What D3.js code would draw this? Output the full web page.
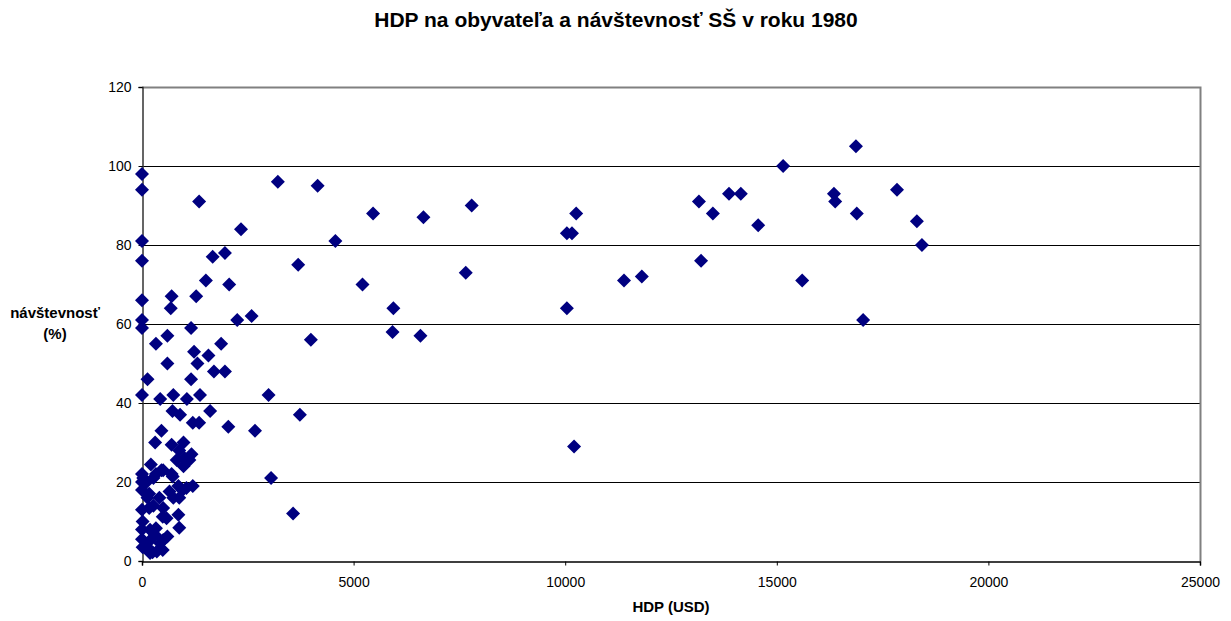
<!DOCTYPE html>
<html>
<head>
<meta charset="utf-8">
<script src="https://cdn.jsdelivr.net/npm/d3@7"></script>
<style>
  body { margin: 0; background: #fff; }
  svg { display: block; font-family: "Liberation Sans", Arial, sans-serif; }
</style>
</head>
<body>
<svg id="chart" width="1231" height="621"></svg>
<script>
// ---- data ----
const titleText = "HDP na obyvateľa a návštevnosť SŠ v roku 1980";
const xLabel = "HDP (USD)";
const yLabelLines = ["návštevnosť", "(%)"];
const xTicks = [0, 5000, 10000, 15000, 20000, 25000];
const yTicks = [0, 20, 40, 60, 80, 100, 120];

// GDP per capita (USD)
const hdp = [
  0, 0, 0, 0, 0, 0, 0, 0, 0, 30, 0, 15, 0, 0, 0, 15, 0,
  110, 190, 350, 250, 490, 430, 500, 170, 600, 310, 190, 330, 880,
  580, 490, 860, 170, 500, 270, 130, 410, 740, 880, 170, 650, 960,
  1050, 860, 1200, 110, 270, 725, 330, 700, 460, 500, 210, 980, 820,
  1010, 1120, 1170, 880, 310, 700, 980, 460, 1200, 1350, 2040, 720, 900,
  1610, 3730, 430, 740, 1060, 1370, 2990, 130, 1160, 1700, 1960, 600, 1310,
  1230, 1570, 1870, 330, 600, 1160, 2250, 2590, 680, 700, 1280, 2060, 1510,
  3690, 1670, 1960, 2340, 1350, 3210, 4150, 4570, 5460, 6650, 7790, 7650, 5210,
  5940, 5920, 6580, 3990, 2670, 3050, 3570,
  10040, 10160, 10260, 10040, 10210, 11390, 11810, 13160, 13210, 13490, 13870,
  14150, 14560, 15150, 15600, 16350, 16380, 16870, 16890, 17040, 17840, 18310, 18430
];
// secondary school enrolment (%)
const navstevnost = [
  98, 94, 81, 76, 66, 61, 59, 42, 22, 21, 18, 10, 8, 5.5, 13, 3.5, 20,
  3.6, 2, 2.4, 2.2, 2.8, 4.5, 5.3, 5, 6.2, 6.6, 7.9, 8.3, 8.4,
  10.8, 11.2, 11.7, 13.4, 13.4, 14, 16, 16, 16, 16, 17, 17.6, 18,
  18.5, 19, 19, 20, 21, 21.4, 22, 22, 23, 23, 24.4, 24, 25.6,
  26, 25.6, 27, 28, 30, 29.4, 30, 33, 35, 35, 34, 38, 37,
  38, 37, 41, 42, 41, 42, 42, 46, 46, 48, 48, 50, 50,
  53, 52, 55, 55, 57, 59, 61, 62, 64, 67, 67, 70, 71,
  75, 77, 78, 84, 91, 96, 95, 81, 88, 87, 90, 73, 70,
  64, 58, 57, 56, 33, 21, 12,
  83, 83, 88, 64, 29, 71, 72, 91, 76, 88, 93,
  93, 85, 100, 71, 93, 91, 105, 88, 61, 94, 86, 80
];

// ---- chart ----
const svg = d3.select("#chart");
const W = 1231, H = 621;
const mLeft = 142, mRight = 1200, mTop = 87, mBottom = 561;
const FONT = "'Liberation Sans', Arial, sans-serif";

svg.append("rect").attr("width", W).attr("height", H).attr("fill", "#fff");

const x = d3.scaleLinear().domain([0, 25000]).range([mLeft, mRight]);
const y = d3.scaleLinear().domain([0, 120]).range([mBottom, mTop]);

// gridlines
svg.append("g")
  .selectAll("line")
  .data(yTicks.filter(t => t > 0 && t < 120))
  .join("line")
  .attr("x1", mLeft).attr("x2", mRight)
  .attr("y1", d => Math.round(y(d)) + 0.5).attr("y2", d => Math.round(y(d)) + 0.5)
  .attr("stroke", "#000").attr("stroke-width", 1);

// plot border (top, right) gray
svg.append("path")
  .attr("d", `M${mLeft},${mTop + 0.5}H${mRight + 0.5}V${mBottom}`)
  .attr("fill", "none").attr("stroke", "#808080").attr("stroke-width", 2);

// y axis
const yAxis = d3.axisLeft(y).tickValues(yTicks).tickSize(4).tickPadding(7).tickFormat(d3.format("d"));
const gy = svg.append("g").attr("transform", `translate(${mLeft + 0.5},0)`).call(yAxis);
gy.select(".domain").attr("stroke", "#333").attr("stroke-width", 1.5);
gy.selectAll(".tick line").attr("stroke", "#000");
gy.selectAll(".tick text").attr("font-size", 14).attr("fill", "#000").attr("font-family", FONT);

// x axis
const xAxis = d3.axisBottom(x).tickValues(xTicks).tickSize(4).tickPadding(12).tickFormat(d3.format("d"));
const gx = svg.append("g").attr("transform", `translate(0,${mBottom + 0.5})`).call(xAxis);
gx.select(".domain").attr("stroke", "#000").attr("stroke-width", 1.5);
gx.selectAll(".tick line").attr("stroke", "#000");
gx.selectAll(".tick text").attr("font-size", 14).attr("fill", "#000").attr("font-family", FONT);

// points (diamonds)
const r = 7;
const diamond = `M0,${-r}L${r},0L0,${r}L${-r},0Z`;
svg.append("g")
  .selectAll("path")
  .data(d3.range(hdp.length))
  .join("path")
  .attr("d", diamond)
  .attr("transform", i => `translate(${x(hdp[i])},${y(navstevnost[i])})`)
  .attr("fill", "#000080");

// title
svg.append("text")
  .attr("x", 616).attr("y", 27)
  .attr("text-anchor", "middle")
  .attr("font-size", 21).attr("font-weight", "bold")
  .text(titleText);

// x label
svg.append("text")
  .attr("x", 671).attr("y", 612)
  .attr("text-anchor", "middle")
  .attr("font-size", 15).attr("font-weight", "bold")
  .text(xLabel);

// y label
svg.append("text")
  .attr("x", 55).attr("y", 318)
  .attr("text-anchor", "middle")
  .attr("font-size", 15).attr("font-weight", "bold")
  .selectAll("tspan")
  .data(yLabelLines)
  .join("tspan")
  .attr("x", 55)
  .attr("dy", (d, i) => i === 0 ? 0 : 21)
  .text(d => d);
</script>
</body>
</html>
